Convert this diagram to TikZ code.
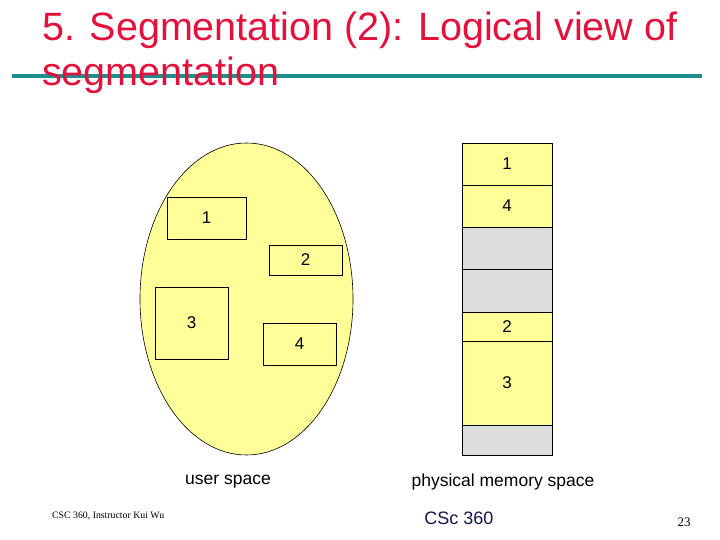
\documentclass[tikz,border=0pt]{standalone}
\usepackage{fontspec}
\setmainfont{Liberation Sans}
\newfontfamily\footserif{Liberation Serif}
\usetikzlibrary{shapes.geometric}
\definecolor{titlered}{HTML}{E3113C}
\definecolor{tealline}{HTML}{1A8F8C}
\definecolor{segyellow}{HTML}{FFFF99}
\definecolor{seggray}{HTML}{DDDDDD}
\definecolor{navy}{HTML}{141450}
\tikzset{
  segbox/.style={draw=black, line width=0.8pt, inner sep=0pt, font=\fontsize{17}{19}\selectfont},
  memcell/.style={draw=black, line width=0.8pt, inner sep=0pt, minimum width=90pt, font=\fontsize{17}{19}\selectfont},
  yel/.style={fill=segyellow},
  gry/.style={fill=seggray},
  caption/.style={font=\fontsize{17.5}{20}\selectfont},
  titletext/.style={font=\fontsize{39.5}{44}\selectfont, text=titlered, inner sep=0pt, anchor=base west}
}
\begin{document}
\begin{tikzpicture}[x=1pt, y=-1pt]
\useasboundingbox (0,0) rectangle (720,540);
% title
\draw[tealline, line width=4pt] (12,76) -- (702,76);
\node[titletext] (t1) at (42,41) {5. Segmentation (2): Logical view of};
\node[titletext] (t2) at (42,86) {segmentation};
% user space ellipse
\node[ellipse, draw=black, line width=0.6pt, fill=segyellow, minimum width=213pt, minimum height=312pt, inner sep=0pt] (us) at (246.5,299) {};
\node[segbox, minimum width=79pt, minimum height=42pt] (u1) at (206.5,218) {1};
\node[segbox, minimum width=73pt, minimum height=30pt] (u2) at (305.5,260) {2};
\node[segbox, minimum width=73pt, minimum height=72pt] (u3) at (191.5,323) {3};
\node[segbox, minimum width=73pt, minimum height=42pt] (u4) at (299.5,344) {4};
% physical memory
\node[memcell, yel, minimum height=42pt] (m1) at (507,164) {1};
\node[memcell, yel, minimum height=42pt] (m4) at (507,206) {4};
\node[memcell, gry, minimum height=42pt] (g1) at (507,248) {};
\node[memcell, gry, minimum height=43pt] (g2) at (507,290.5) {};
\node[memcell, yel, minimum height=29pt] (m2) at (507,326.5) {2};
\node[memcell, yel, minimum height=84pt] (m3) at (507,383) {3};
\node[memcell, gry, minimum height=30pt] (g3) at (507,440) {};
% captions
\node[caption] (cu) at (228,482) {user space};
\node[caption] (cp) at (503,482) {physical memory space};
% footer
\node[font=\footserif\fontsize{9.8}{11}\selectfont, anchor=west, inner sep=0pt] (f1) at (52,516) {CSC 360, Instructor Kui Wu};
\node[font=\fontsize{18}{20}\selectfont, text=navy] (f2) at (459,518) {CSc 360};
\node[font=\footserif\fontsize{13}{15}\selectfont] (f3) at (684,522) {23};
\end{tikzpicture}
\end{document}
